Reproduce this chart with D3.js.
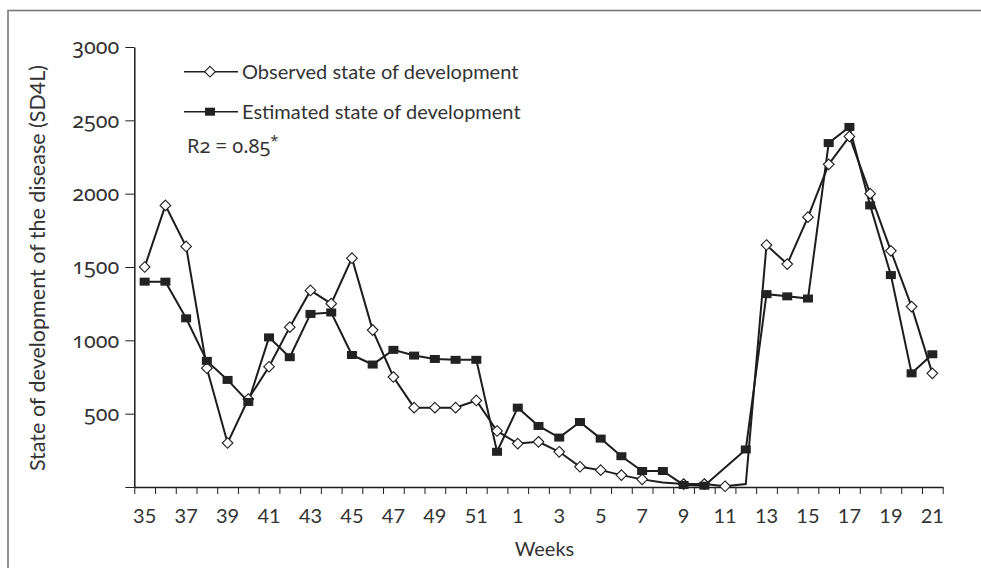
<!DOCTYPE html>
<html>
<head>
<meta charset="utf-8">
<script src="https://cdn.jsdelivr.net/npm/d3@7"></script>
<style>
  html, body { margin: 0; padding: 0; background: #fff; }
  svg { display: block; font-family: Lato, "Open Sans", sans-serif; }
</style>
</head>
<body>
<svg id="chart" width="981" height="568"></svg>
<script>
// ---- data ----
const weeks = [35,36,37,38,39,40,41,42,43,44,45,46,47,48,49,50,51,52,
               1,2,3,4,5,6,7,8,9,10,11,12,13,14,15,16,17,18,19,20,21];
const labelWeeks = [35,37,39,41,43,45,47,49,51,1,3,5,7,9,11,13,15,17,19,21];
const observed = [1500,1920,1640,810,300,600,820,1090,1340,1250,1560,1070,750,541,541,541,590,382,
                  296,308,240,138,115,81,52,30,20,20,5,20,1650,1520,1840,2200,2390,2000,1610,1230,775];
const observedUnmarked = [8,12];
const estimated = [1400,1400,1150,860,730,580,1020,885,1180,1190,900,835,935,896,873,867,867,240,
                   541,416,337,443,330,210,109,109,14,9,null,256,1315,1300,1285,2345,2455,1920,1445,775,905];
const yTicks = [0,500,1000,1500,2000,2500,3000];
const seriesNames = ["Observed state of development","Estimated state of development"];
const yTitle = "State of development of the disease (SD4L)";
const xTitle = "Weeks";
const r2Label = "R2 = 0.85";

// ---- layout ----
const svg = d3.select("#chart");
const x0 = 134.3, x1 = 942.7, yBot = 487, yTop = 47;
const ink = "#1d1d1d", textCol = "#333";
const onumFont = "'Noto Sans', Lato, sans-serif";

const x = d3.scaleBand().domain(weeks.map(String)).range([x0, x1]).padding(0);
const xi = d3.scaleLinear().domain([0, weeks.length]).range([x0, x1]);
const y = d3.scaleLinear().domain([0, 3000]).range([yBot, yTop]);

// frame (top and left edges visible)
svg.append("rect").attr("x", 8).attr("y", 10.5).attr("width", 1200).attr("height", 800)
   .attr("fill", "none").attr("stroke", "#7a7a7a").attr("stroke-width", 1.6);

// y axis
const yAxis = svg.append("g").attr("transform", `translate(${x0},0)`)
  .call(d3.axisLeft(y).tickValues(yTicks).tickSize(9).tickSizeOuter(0).tickPadding(6)
        .tickFormat(d => d === 0 ? "" : String(d)));
yAxis.attr("font-family", null).attr("font-size", null);
yAxis.select(".domain").attr("stroke", ink).attr("stroke-width", 1.5);
yAxis.selectAll(".tick line").attr("stroke", ink).attr("stroke-width", 1);
yAxis.selectAll(".tick text").attr("fill", textCol)
     .style("font-family", onumFont).style("font-size", "21.5px")
     .style("font-feature-settings", "'onum' 1").style("font-variant-numeric", "oldstyle-nums");

// x axis ticks at band boundaries
const xAxisTicks = svg.append("g").attr("transform", `translate(0,${yBot})`)
  .call(d3.axisBottom(xi).tickValues(d3.range(weeks.length + 1)).tickSize(7).tickSizeOuter(0).tickFormat(""));
xAxisTicks.select(".domain").attr("stroke", ink).attr("stroke-width", 1.5);
xAxisTicks.selectAll(".tick line").attr("stroke", ink).attr("stroke-width", 1);

// x labels at band centres
const xAxisLabels = svg.append("g").attr("transform", `translate(0,${yBot})`)
  .call(d3.axisBottom(x).tickValues(labelWeeks.map(String)).tickSize(0).tickPadding(22));
xAxisLabels.attr("font-family", null).attr("font-size", null);
xAxisLabels.select(".domain").remove();
xAxisLabels.selectAll(".tick text").attr("fill", textCol).style("font-size", "20px");

// axis titles
svg.append("text").attr("transform", `translate(45,268) rotate(-90)`)
   .attr("text-anchor", "middle").attr("fill", textCol).style("font-size", "21.5px").text(yTitle);
svg.append("text").attr("x", 544.5).attr("y", 555.5).attr("text-anchor", "middle")
   .attr("fill", textCol).style("font-size", "20px").text(xTitle);

// lines
const cx = i => x(String(weeks[i])) + x.bandwidth() / 2;
const obsPts = observed.map((v, i) => ({x: cx(i), v, w: weeks[i]})).filter(p => p.v != null);
const estPts = estimated.map((v, i) => ({x: cx(i), v, w: weeks[i]})).filter(p => p.v != null);
const lineGen = d3.line().x(p => p.x).y(p => y(p.v));
svg.append("path").attr("d", lineGen(estPts))
   .attr("fill", "none").attr("stroke", ink).attr("stroke-width", 2);
svg.append("path").attr("d", lineGen(obsPts))
   .attr("fill", "none").attr("stroke", ink).attr("stroke-width", 2);

// markers
const diamond = d3.symbol().type(d3.symbolDiamond2).size(72);
svg.append("g").selectAll("path")
   .data(obsPts.filter(p => !observedUnmarked.includes(p.w)))
   .join("path").attr("d", diamond)
   .attr("transform", p => `translate(${p.x},${y(p.v)})`)
   .attr("fill", "#fff").attr("stroke", ink).attr("stroke-width", 1.1);
svg.append("g").selectAll("rect").data(estPts).join("rect")
   .attr("x", p => p.x - 5).attr("y", p => y(p.v) - 4).attr("width", 10).attr("height", 8)
   .attr("fill", "#222");

// legend
const leg = svg.append("g");
const legRows = [{y: 71.7, name: seriesNames[0], type: "diamond"}, {y: 111.7, name: seriesNames[1], type: "square"}];
legRows.forEach(r => {
  leg.append("line").attr("x1", 184).attr("x2", 238).attr("y1", r.y).attr("y2", r.y)
     .attr("stroke", ink).attr("stroke-width", 1.6);
  if (r.type === "diamond") {
    leg.append("path").attr("d", diamond).attr("transform", `translate(210,${r.y})`)
       .attr("fill", "#fff").attr("stroke", ink).attr("stroke-width", 1.1);
  } else {
    leg.append("rect").attr("x", 205).attr("y", r.y - 4).attr("width", 10).attr("height", 8).attr("fill", "#222");
  }
  leg.append("text").attr("x", 242).attr("y", r.y + 7).attr("fill", textCol)
     .style("font-size", "20px").text(r.name);
});
const r2 = svg.append("text").attr("x", 187).attr("y", 153).attr("fill", textCol)
   .style("font-size", "20px").style("font-family", onumFont)
   .style("font-feature-settings", "'onum' 1").style("font-variant-numeric", "oldstyle-nums");
r2.append("tspan").text(r2Label);
r2.append("tspan").attr("dy", -7).style("font-size", "14px").text("*");
</script>
</body>
</html>
